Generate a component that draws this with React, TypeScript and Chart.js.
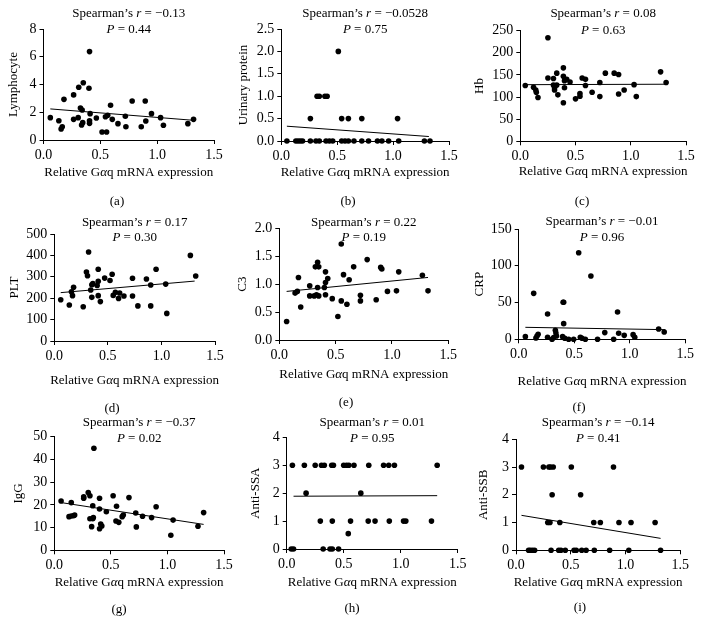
import React, { useEffect, useRef } from "react";
import { Chart, registerables } from "chart.js";

Chart.register(...registerables);

// ---------------- data ----------------
const xTicks = [0.0, 0.5, 1.0, 1.5];

const aX = [0.06,0.135,0.155,0.165,0.18,0.265,0.265,0.305,0.31,0.325,0.34,0.335,0.345,0.35,0.40,0.405,0.41,0.405,0.405,0.465,0.515,0.555,0.545,0.565,0.59,0.605,0.655,0.72,0.725,0.78,0.86,0.895,0.90,0.95,1.03,1.055,1.27,1.32];
const aY = [1.61,1.39,0.79,0.96,2.93,1.49,3.25,1.61,3.80,2.31,2.16,1.08,1.25,4.13,3.73,6.37,1.90,1.39,1.20,1.59,0.58,0.58,1.68,1.78,2.50,1.49,1.18,1.71,0.96,2.81,0.96,2.81,1.37,1.90,1.61,1.06,1.18,1.49];
const aTrendX = [0.06, 1.32];
const aTrendY = [2.24, 1.42];

const bX = [0.05,0.13,0.15,0.17,0.19,0.26,0.31,0.34,0.40,0.43,0.46,0.54,0.57,0.60,0.65,0.72,0.78,0.86,0.90,0.96,1.05,1.28,1.33, 0.26,0.54,0.60,0.72,1.04, 0.32,0.34,0.39,0.41, 0.51];
const bY = [0,0,0,0,0,0,0,0,0,0,0,0,0,0,0,0,0,0,0,0,0,0,0, 0.5,0.5,0.5,0.5,0.5, 1,1,1,1, 2];
const bTrendX = [0.05, 1.32];
const bTrendY = [0.33, 0.10];

const cX = [0.045,0.12,0.14,0.145,0.16,0.25,0.25,0.30,0.30,0.31,0.31,0.33,0.33,0.34,0.39,0.39,0.39,0.40,0.40,0.42,0.45,0.50,0.54,0.54,0.56,0.59,0.59,0.65,0.72,0.72,0.77,0.85,0.89,0.89,0.94,1.03,1.05,1.27,1.32];
const cY = [126,122,116,111,99,234,143,142,127,121,116,127,154,105,87,166,147,137,121,140,134,96,108,102,143,140,126,111,101,133,154,154,151,107,116,128,101,157,133];
const cTrendX = [0.045, 1.32];
const cTrendY = [128, 129];

const dX = [0.06,0.14,0.16,0.17,0.18,0.27,0.30,0.31,0.32,0.34,0.35,0.35,0.36,0.40,0.41,0.41,0.41,0.43,0.47,0.52,0.54,0.55,0.57,0.60,0.61,0.65,0.73,0.73,0.78,0.86,0.90,0.90,0.95,1.04,1.05,1.27,1.32];
const dY = [193,168,230,212,251,160,322,305,416,238,263,204,268,259,279,335,212,184,294,283,312,213,227,199,224,210,293,210,164,290,262,164,335,266,129,400,304];
const dTrendX = [0.06, 1.31];
const dTrendY = [226, 280];

const eX = [0.065,0.14,0.16,0.17,0.19,0.27,0.27,0.31,0.32,0.33,0.34,0.34,0.35,0.35,0.40,0.41,0.41,0.41,0.43,0.47,0.52,0.55,0.55,0.57,0.60,0.62,0.66,0.72,0.72,0.78,0.86,0.90,0.91,0.96,1.04,1.06,1.27,1.32];
const eY = [0.33,0.84,0.87,1.12,0.59,0.97,0.79,0.79,1.31,0.81,0.94,1.39,1.31,0.79,0.94,1.22,1.03,0.81,1.10,0.74,0.42,1.72,0.70,1.17,0.64,1.08,1.31,0.80,0.70,1.44,0.72,1.30,1.27,0.87,0.88,1.22,1.16,0.88];
const eTrendX = [0.065, 1.32];
const eTrendY = [0.87, 1.12];

const fX = [0.06,0.135,0.155,0.165,0.175,0.26,0.26,0.30,0.315,0.33,0.335,0.34,0.40,0.405,0.405,0.395,0.415,0.45,0.495,0.54,0.555,0.57,0.60,0.65,0.71,0.775,0.855,0.89,0.90,0.95,1.03,1.045,1.26,1.31];
const fY = [3.6,62.5,1.8,4.5,6.8,34.4,2.7,0,2.3,12.2,8.6,4.5,50.3,50.3,21.3,3.6,1.4,0,0,117.8,2.7,1.4,0,86.1,0,9.1,0,37.2,8.2,5.4,6.3,2.7,14.0,10.0];
const fTrendX = [0.06, 1.32];
const fTrendY = [16.3, 13.1];

const gX = [0.06,0.13,0.15,0.15,0.17,0.18,0.26,0.26,0.30,0.315,0.315,0.33,0.34,0.34,0.345,0.35,0.40,0.40,0.40,0.41,0.42,0.46,0.52,0.545,0.55,0.57,0.60,0.61,0.66,0.72,0.725,0.78,0.86,0.90,1.03,1.05,1.27,1.32];
const gY = [21.7,14.8,21.0,15.1,15.2,15.5,23.6,22.9,25.4,24.0,13.9,10.4,13.9,19.6,14.4,44.9,22.9,9.5,18.2,11.6,10.7,17.0,24.0,12.9,19.4,12.3,14.8,15.5,23.2,16.4,10.3,15.0,14.4,19.2,6.6,13.3,10.6,16.6];
const gTrendX = [0.06, 1.32];
const gTrendY = [21.0, 11.4];

const hX = [0.05,0.155,0.25,0.305,0.33,0.395,0.41,0.50,0.525,0.545,0.59,0.72,0.85,0.895,0.945,1.32, 0.17,0.65, 0.295,0.40,0.56,0.715,0.775,0.90,1.025,1.045,1.27, 0.54, 0.04,0.06,0.32,0.38,0.40,0.455];
const hY = [3,3,3,3,3,3,3,3,3,3,3,3,3,3,3,3, 2,2, 1,1,1,1,1,1,1,1,1, 0.55, 0,0,0,0,0,0];
const hTrendX = [0.06, 1.32];
const hTrendY = [1.89, 1.91];

const iX = [0.05,0.25,0.30,0.315,0.34,0.505,0.89, 0.33,0.59, 0.29,0.31,0.40,0.71,0.77,0.94,1.05,1.27, 0.115,0.13,0.15,0.17,0.32,0.39,0.41,0.45,0.53,0.55,0.60,0.64,0.715,0.855,1.03,1.32];
const iY = [3,3,3,3,3,3,3, 2,2, 1,1,1,1,1,1,1,1, 0,0,0,0,0,0,0,0,0,0,0,0,0,0,0,0];
const iTrendX = [0.05, 1.32];
const iTrendY = [1.26, 0.43];

const yLabels = ["Lymphocyte", "Urinary protein", "Hb", "PLT", "C3", "CRP", "IgG", "Anti-SSA", "Anti-SSB"];
const rValues = ["\u22120.13", "\u22120.0528", "0.08", "0.17", "0.22", "\u22120.01", "\u22120.37", "0.01", "\u22120.14"];
const pValues = ["0.44", "0.75", "0.63", "0.30", "0.19", "0.96", "0.02", "0.95", "0.41"];
const panelLetters = ["(a)", "(b)", "(c)", "(d)", "(e)", "(f)", "(g)", "(h)", "(i)"];
const yMaxes = [8, 2.5, 250, 500, 2.0, 150, 50, 4, 4];
const ySteps = [2, 0.5, 50, 100, 0.5, 50, 10, 1, 1];
const yDecimals = [0, 1, 0, 0, 1, 0, 0, 0, 0];

const seriesX = [aX, bX, cX, dX, eX, fX, gX, hX, iX];
const seriesY = [aY, bY, cY, dY, eY, fY, gY, hY, iY];
const trendXs = [aTrendX, bTrendX, cTrendX, dTrendX, eTrendX, fTrendX, gTrendX, hTrendX, iTrendX];
const trendYs = [aTrendY, bTrendY, cTrendY, dTrendY, eTrendY, fTrendY, gTrendY, hTrendY, iTrendY];

// ---------------- layout (page px) ----------------
const W = 702;
const H = 636;
const YW = 40;
const XH = 30;
const FONT = '"Liberation Serif", "Times New Roman", serif';
const FS = 13;
const TICK_FS = 14;

type Layout = { l: number; r: number; t: number; b: number; t1: number; t2: number; yTx: number; xTy: number; lx: number; ly: number };
const layouts: Layout[] = [
  { l: 43.5, r: 214, t: 29, b: 140, t1: 14, t2: 30, yTx: 14, xTy: 173, lx: 117, ly: 202 },
  { l: 281.3, r: 449, t: 29, b: 141, t1: 14, t2: 30, yTx: 244, xTy: 173, lx: 348, ly: 202 },
  { l: 520.3, r: 686, t: 30.7, b: 141.3, t1: 14, t2: 31, yTx: 480, xTy: 172, lx: 582, ly: 202 },
  { l: 54.3, r: 215, t: 234, b: 341, t1: 223, t2: 238, yTx: 15, xTy: 381, lx: 112, ly: 409 },
  { l: 279.3, r: 448.3, t: 228.3, b: 340, t1: 223, t2: 238, yTx: 243, xTy: 375, lx: 346, ly: 403 },
  { l: 518.7, r: 685.3, t: 229, b: 339.3, t1: 222, t2: 238, yTx: 480, xTy: 382, lx: 579, ly: 408 },
  { l: 54.3, r: 224, t: 436.7, b: 550.3, t1: 423, t2: 439, yTx: 19, xTy: 583, lx: 119, ly: 610 },
  { l: 286.7, r: 457.7, t: 437.3, b: 549, t1: 423, t2: 439, yTx: 256, xTy: 583, lx: 352, ly: 609 },
  { l: 516, r: 680.3, t: 439.3, b: 550.3, t1: 423, t2: 439, yTx: 484, xTy: 583, lx: 580, ly: 608 },
];

function fontStr(size: number, italic: boolean) {
  return `${italic ? "italic " : ""}${size}px ${FONT}`;
}

function drawRich(ctx: CanvasRenderingContext2D, parts: [string, boolean][], cx: number, cy: number, size: number) {
  const widths = parts.map(([t, it]) => {
    ctx.font = fontStr(size, it);
    return ctx.measureText(t).width;
  });
  const total = widths.reduce((s, w) => s + w, 0);
  let x = cx - total / 2;
  ctx.textAlign = "left";
  ctx.textBaseline = "middle";
  parts.forEach(([t, it], k) => {
    ctx.font = fontStr(size, it);
    ctx.fillText(t, x, cy);
    x += widths[k];
  });
}

function Panel({ idx }: { idx: number }) {
  const ref = useRef<HTMLCanvasElement | null>(null);
  useEffect(() => {
    const L = layouts[idx];
    const points = seriesX[idx].map((x, k) => ({ x, y: seriesY[idx][k] }));
    const trend = trendXs[idx].map((x, k) => ({ x, y: trendYs[idx][k] }));
    const dec = yDecimals[idx];
    const textPlugin = {
      id: "panelText" + idx,
      afterDraw(chart: any) {
        const ctx: CanvasRenderingContext2D = chart.ctx;
        ctx.save();
        ctx.fillStyle = "#000";
        const cx = (chart.chartArea.left + chart.chartArea.right) / 2;
        const cy = (chart.chartArea.top + chart.chartArea.bottom) / 2;
        drawRich(ctx, [["Spearman\u2019s ", false], ["r", true], [" = " + rValues[idx], false]], cx, L.t1, FS);
        drawRich(ctx, [["P", true], [" = " + pValues[idx], false]], cx, L.t2, FS);
        drawRich(ctx, [["Relative G", false], ["\u03b1", true], ["q mRNA expression", false]], cx, L.xTy, FS);
        drawRich(ctx, [[panelLetters[idx], false]], L.lx, L.ly, FS);
        ctx.translate(L.yTx, cy);
        ctx.rotate(-Math.PI / 2);
        drawRich(ctx, [[yLabels[idx], false]], 0, 0, FS);
        ctx.restore();
      },
    };
    const tickFont = { family: FONT, size: TICK_FS };
    const chart = new Chart(ref.current as HTMLCanvasElement, {
      type: "scatter",
      data: {
        datasets: [
          {
            data: points,
            pointRadius: 2.8,
            pointHoverRadius: 2.8,
            pointBackgroundColor: "#000",
            pointBorderColor: "#000",
            pointBorderWidth: 0,
            showLine: false,
            clip: false as any,
          },
          {
            data: trend,
            showLine: true,
            borderColor: "#000",
            borderWidth: 1,
            pointRadius: 0,
            pointHoverRadius: 0,
            clip: false as any,
          },
        ],
      },
      options: {
        responsive: false,
        maintainAspectRatio: false,
        animation: false,
        events: [],
        layout: {
          padding: { left: L.l - YW, top: L.t, right: W - L.r, bottom: H - L.b - XH },
        },
        plugins: {
          legend: { display: false },
          tooltip: { enabled: false },
          title: { display: false },
        },
        scales: {
          x: {
            type: "linear",
            min: 0,
            max: 1.5,
            afterFit: (s: any) => {
              s.height = XH;
            },
            afterBuildTicks: (s: any) => {
              s.ticks = xTicks.map((v) => ({ value: v }));
            },
            ticks: {
              stepSize: 0.5,
              autoSkip: false,
              maxRotation: 0,
              padding: 3,
              color: "#000",
              font: tickFont,
              callback: (v: any) => Number(v).toFixed(1),
            },
            grid: { drawOnChartArea: false, drawTicks: true, tickLength: 4, color: "#000", lineWidth: 1 },
            border: { display: true, color: "#000", width: 1 },
          },
          y: {
            type: "linear",
            min: 0,
            max: yMaxes[idx],
            afterFit: (s: any) => {
              s.width = YW;
            },
            ticks: {
              stepSize: ySteps[idx],
              autoSkip: false,
              padding: 3,
              color: "#000",
              font: tickFont,
              callback: (v: any) => Number(v).toFixed(dec),
            },
            grid: { drawOnChartArea: false, drawTicks: true, tickLength: 4, color: "#000", lineWidth: 1 },
            border: { display: true, color: "#000", width: 1 },
          },
        },
      } as any,
      plugins: [textPlugin],
    });
    return () => chart.destroy();
  }, [idx]);
  return (
    <canvas
      ref={ref}
      width={W}
      height={H}
      style={{ position: "absolute", left: 0, top: 0, width: W, height: H }}
    />
  );
}

export default function App() {
  return (
    <div style={{ position: "absolute", left: 0, top: 0, width: W, height: H, background: "#fff", overflow: "hidden" }}>
      {layouts.map((_, k) => (
        <Panel key={k} idx={k} />
      ))}
    </div>
  );
}
